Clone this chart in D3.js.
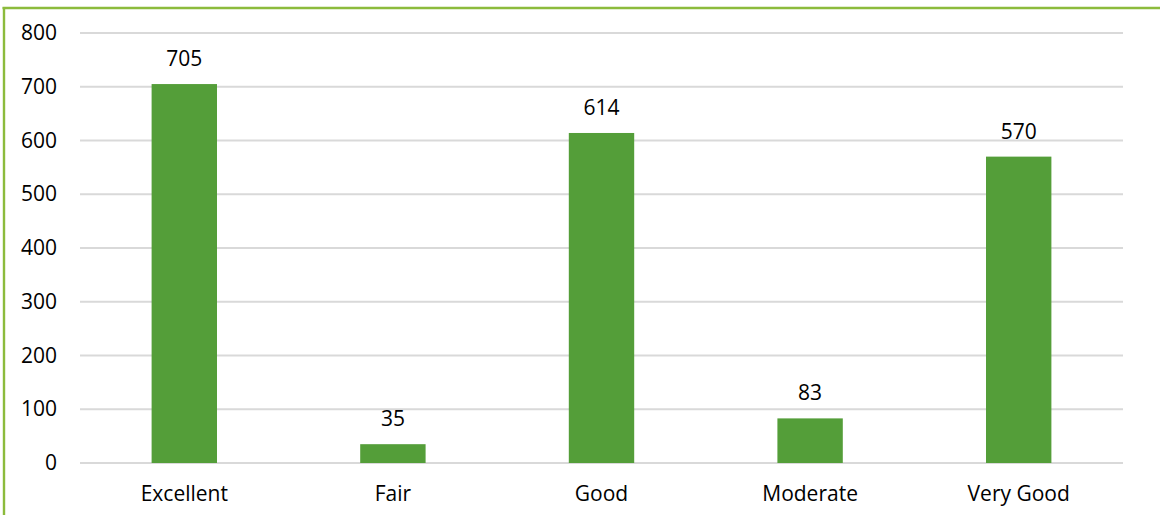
<!DOCTYPE html>
<html>
<head>
<meta charset="utf-8">
<script src="https://cdn.jsdelivr.net/npm/d3@7"></script>
<style>
  html, body { margin: 0; padding: 0; background: #fff; }
  #wrapper { width: 1160px; height: 515px; position: relative; }
  text { font-family: "Open Sans", "Noto Sans", sans-serif; fill: #000; }
</style>
</head>
<body>
<div id="wrapper"></div>
<script>
const categories = ["Excellent", "Fair", "Good", "Moderate", "Very Good"];
const counts = [705, 35, 614, 83, 570];
const yTicks = [0, 100, 200, 300, 400, 500, 600, 700, 800];

const dimensions = {
  width: 1160,
  height: 515,
  margin: { top: 33, right: 37, bottom: 52, left: 80 },
};
dimensions.boundedWidth =
  dimensions.width - dimensions.margin.left - dimensions.margin.right;
dimensions.boundedHeight =
  dimensions.height - dimensions.margin.top - dimensions.margin.bottom;

const svg = d3
  .select("#wrapper")
  .append("svg")
  .attr("width", dimensions.width)
  .attr("height", dimensions.height);

// frame: green line on the top and left edge
const frame = svg.append("g").attr("stroke", "#8cbb3c").attr("stroke-width", 2.4);
frame.append("line").attr("x1", 2.5).attr("x2", dimensions.width).attr("y1", 8).attr("y2", 8);
frame.append("line").attr("x1", 4).attr("x2", 4).attr("y1", 7).attr("y2", dimensions.height);

const bounds = svg
  .append("g")
  .attr("transform", `translate(${dimensions.margin.left},${dimensions.margin.top})`);

const yScale = d3
  .scaleLinear()
  .domain([0, 800])
  .range([dimensions.boundedHeight, 0]);

// excel style gap width 219%
const gap = 2.19 / 3.19;
const xScale = d3
  .scaleBand()
  .domain(categories)
  .range([0, dimensions.boundedWidth])
  .paddingInner(gap)
  .paddingOuter(gap / 2);

// gridlines
bounds
  .append("g")
  .selectAll("line")
  .data(yTicks)
  .join("line")
  .attr("x1", 0)
  .attr("x2", dimensions.boundedWidth)
  .attr("y1", (d) => yScale(d))
  .attr("y2", (d) => yScale(d))
  .attr("stroke", "#d9d9d9")
  .attr("stroke-width", 2);

// y axis labels
const yAxis = bounds
  .append("g")
  .call(d3.axisLeft(yScale).tickValues(yTicks).tickSize(0).tickPadding(23));
yAxis.select(".domain").remove();
yAxis.selectAll("text").style("font-size", "21px").attr("fill", "#000");

// bars
bounds
  .append("g")
  .selectAll("rect")
  .data(counts)
  .join("rect")
  .attr("x", (d, i) => xScale(categories[i]))
  .attr("width", xScale.bandwidth())
  .attr("y", (d) => yScale(d))
  .attr("height", (d) => yScale(0) - yScale(d))
  .attr("fill", "#549e39");

// value labels
bounds
  .append("g")
  .selectAll("text")
  .data(counts)
  .join("text")
  .attr("x", (d, i) => xScale(categories[i]) + xScale.bandwidth() / 2)
  .attr("y", (d) => yScale(d) - 18)
  .attr("text-anchor", "middle")
  .style("font-size", "21px")
  .text((d) => d);

// x axis labels
const xAxis = bounds
  .append("g")
  .attr("transform", `translate(0,${dimensions.boundedHeight})`)
  .call(d3.axisBottom(xScale).tickSize(0).tickPadding(23));
xAxis.select(".domain").remove();
xAxis.selectAll("text").style("font-size", "21px").attr("fill", "#000");
</script>
</body>
</html>
